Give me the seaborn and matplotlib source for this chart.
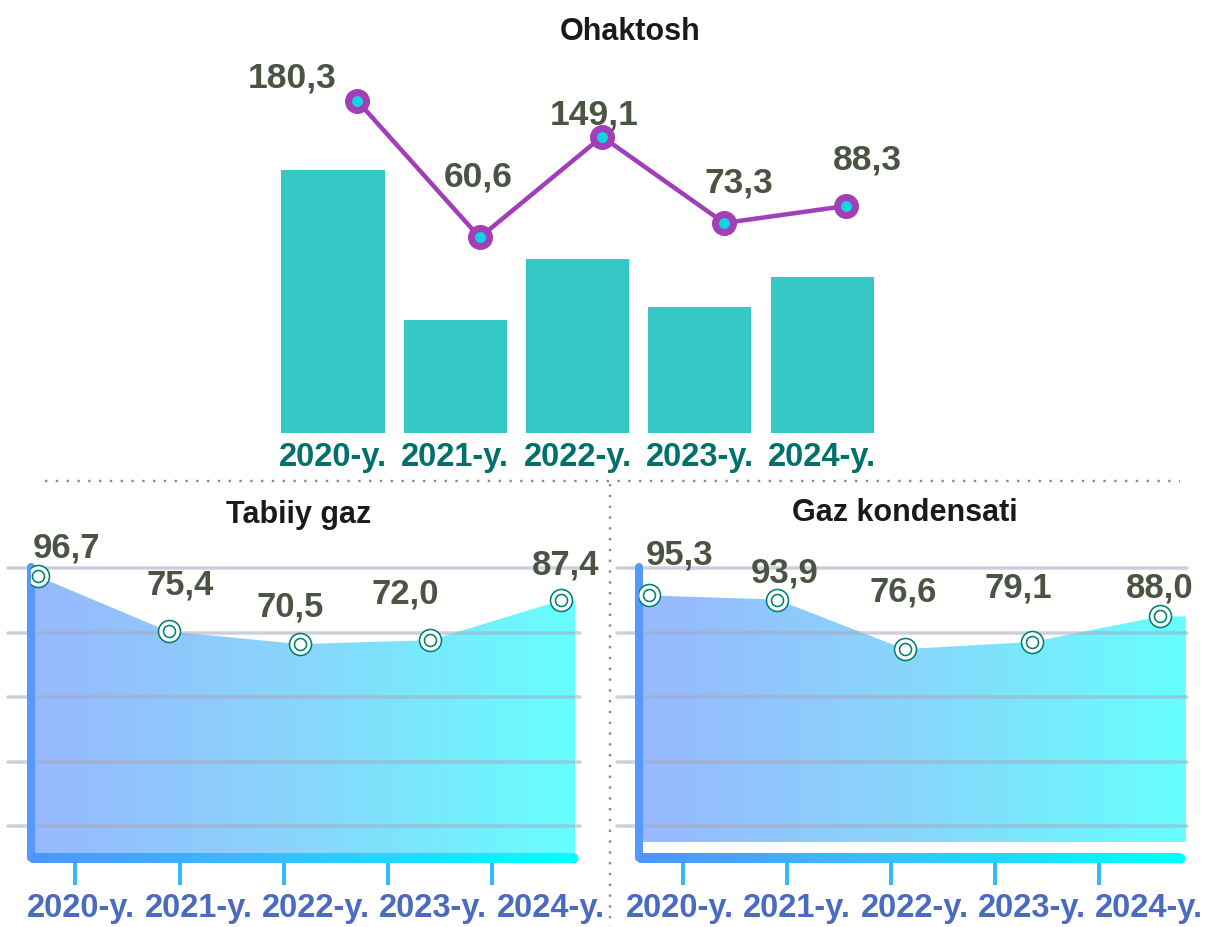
import numpy as np
import matplotlib
matplotlib.use("Agg")
import matplotlib.pyplot as plt
import seaborn as sns
from matplotlib.colors import LinearSegmentedColormap
from matplotlib.collections import LineCollection
from matplotlib.lines import Line2D

# ---------------- data ----------------
years = ['2020-y.', '2021-y.', '2022-y.', '2023-y.', '2024-y.']
ohaktosh = [180.3, 60.6, 149.1, 73.3, 88.3]
ohaktosh_bars = [263, 113, 174, 126, 156]   # bar heights as drawn (relative units)
tabiiy_gaz = [96.7, 75.4, 70.5, 72.0, 87.4]
gaz_kondensati = [95.3, 93.9, 76.6, 79.1, 88.0]
title_top = 'Ohaktosh'
title_left = 'Tabiiy gaz'
title_right = 'Gaz kondensati'

# label offsets from their points (pixels: right, up) - styling only
top_label_off = [(-65, 23), (-2, 60), (-8, 22), (15, 40), (21, 46)]
left_label_off = [(29, 28), (11, 46), (-9, 37), (-25, 46), (5, 35)]
right_label_off = [(31, 40), (8, 27), (-1, 57), (-14, 54), (0, 28)]

# ---------------- style ----------------
sns.set_theme(style='white')
plt.rcParams['font.family'] = ['Liberation Sans', 'DejaVu Sans']
plt.rcParams['font.weight'] = 'bold'

W, H = 1205, 927
PX = 72 / 100  # points per pixel
fig = plt.figure(figsize=(W / 100, H / 100), dpi=100)
fig.patch.set_facecolor('white')


def px_rect(l, t, r, b):
    return [l / W, 1 - b / H, (r - l) / W, (b - t) / H]


def fmt(v):
    return f"{v:.1f}".replace('.', ',')


VAL_COLOR = '#4a5443'

# ---------------- top panel ----------------
ax = fig.add_axes(px_rect(262, 60, 902, 433))
sns.barplot(x=years, y=ohaktosh_bars, color='#34c9c4', saturation=1,
            width=0.843, linewidth=0, ax=ax)
ax.set_xlim(-0.581, 4.654)
ax.set_ylim(0, 373)
ax.set_yticks([])
ax.set_xlabel('')
ax.set_ylabel('')
for s in ax.spines.values():
    s.set_visible(False)
ax.tick_params(axis='x', length=0, pad=9 * PX, labelsize=23.5, labelcolor='#00706a')
for lbl in ax.get_xticklabels():
    lbl.set_fontweight('bold')

ax2 = ax.twinx()
xline = np.arange(len(ohaktosh)) + 0.2
sns.lineplot(x=xline, y=ohaktosh, ax=ax2, color='#a03fb8', linewidth=4.5 * PX,
             marker='o', markersize=18 * PX, markerfacecolor='#0fd4e4',
             markeredgecolor='#a03fb8', markeredgewidth=7 * PX, zorder=5)
ax2.set_ylim(-110.9, 216.3)
ax2.set_xlim(-0.581, 4.654)
ax2.set_yticks([])
ax2.set_ylabel('')
for s in ax2.spines.values():
    s.set_visible(False)
for i, v in enumerate(ohaktosh):
    dx, dy = top_label_off[i]
    ax2.annotate(fmt(v), (xline[i], v), xytext=(dx * PX, dy * PX),
                 textcoords='offset points', ha='center', va='center',
                 fontsize=25.5, color=VAL_COLOR, fontweight='bold', zorder=6)

fig.text(630 / W, 1 - 32 / H, title_top, ha='center', va='center',
         fontsize=22, fontweight='bold', color='#1a1a1a')

# ---------------- bottom panels ----------------
area_cmap = LinearSegmentedColormap.from_list('area', ['#98b8ff', '#88d6fb', '#66ffff'])
line_cmap = LinearSegmentedColormap.from_list('axl', ['#4d94ff', '#33c4ff', '#00ffff'])


def area_panel(rect_px, values, ylim, xlim, x_end, area_bottom_frac,
               grid_x0, tick_fracs, label_fracs, label_off, title, title_xy):
    ax = fig.add_axes(px_rect(*rect_px))
    x0, x1 = xlim
    ylo, yhi = ylim
    n = len(values)
    xs = np.array(list(range(n)))
    area_bottom = ylo + area_bottom_frac * (yhi - ylo)

    # gradient area
    img = ax.imshow(np.linspace(0, 1, 256).reshape(1, -1), cmap=area_cmap,
                    extent=(x0, x_end, ylo, yhi), aspect='auto', origin='lower',
                    zorder=1)
    px_ = np.concatenate([[x0], xs, [x_end]])
    py_ = np.concatenate([[values[0]], values, [values[-1]]])
    poly = ax.fill_between(px_, py_, area_bottom, facecolor='none', edgecolor='none')
    img.set_clip_path(poly.get_paths()[0], transform=ax.transData)

    # grid lines (drawn over the area)
    for f in np.linspace(0.1022, 0.9265, 5):
        ax.plot([grid_x0, 1.0], [f, f], transform=ax.transAxes, color='#a8a8c0',
                alpha=0.55, lw=3.5 * PX, clip_on=False, zorder=2)

    # left spine
    ax.plot([0, 0], [0, 0.93], transform=ax.transAxes, color='#5599ff',
            lw=8 * PX, solid_capstyle='round', clip_on=False, zorder=3)
    # bottom gradient axis line
    end = 0.988
    xx = np.linspace(0, end, 200)
    segs = [[(xx[k], 0), (xx[k + 1], 0)] for k in range(len(xx) - 1)]
    lc = LineCollection(segs, colors=line_cmap(np.linspace(0, 1, len(segs))),
                        linewidths=10 * PX, transform=ax.transAxes, clip_on=False,
                        zorder=3, capstyle='butt')
    ax.add_collection(lc)
    ax.plot([end], [0], 'o', ms=10 * PX, color='#00ffff', mec='none',
            transform=ax.transAxes, clip_on=False, zorder=3)

    # markers
    sns.scatterplot(x=xs, y=values, s=(22 * PX) ** 2, color='white',
                    edgecolor='#00806f', linewidth=1.6 * PX, zorder=5, ax=ax,
                    legend=False)
    sns.scatterplot(x=xs, y=values, s=(12 * PX) ** 2, color='white',
                    edgecolor='#00806f', linewidth=1.6 * PX, zorder=6, ax=ax,
                    legend=False)
    for i, v in enumerate(values):
        dx, dy = label_off[i]
        ax.annotate(fmt(v), (xs[i], v), xytext=(dx * PX, dy * PX),
                    textcoords='offset points', ha='center', va='center',
                    fontsize=25, color=VAL_COLOR, fontweight='bold', zorder=7,
                    annotation_clip=False)

    ax.set_xlim(x0, x1)
    ax.set_ylim(ylo, yhi)
    ax.set_yticks([])
    ax.set_xlabel('')
    ax.set_ylabel('')
    for s in ax.spines.values():
        s.set_visible(False)
    tick_x = x0 + np.array(tick_fracs) * (x1 - x0)
    lab_x = x0 + np.array(label_fracs) * (x1 - x0)
    ax.set_xticks(tick_x, labels=[''] * len(tick_x))
    ax.set_xticks(lab_x, labels=years, minor=True)
    ax.tick_params(axis='x', which='major', direction='out', length=27 * PX,
                   width=4 * PX, color='#33bbff', bottom=True)
    ax.tick_params(axis='x', which='minor', length=0, pad=35 * PX, labelsize=23.5,
                   labelcolor='#4a6bbf', bottom=True)
    for lbl in ax.get_xticklabels(minor=True):
        lbl.set_fontweight('bold')
    fig.text(title_xy[0] / W, 1 - title_xy[1] / H, title, ha='center', va='center',
             fontsize=22, fontweight='bold', color='#1a1a1a')
    return ax


tick_fracs = np.linspace(0.081, 0.84, 5)
area_panel((31, 545, 580, 858), tabiiy_gaz, (-12.4, 108.9), (-0.0535, 4.145), 4.107,
           0.0, -0.042, tick_fracs, np.linspace(0.091, 0.947, 5), left_label_off,
           title_left, (299, 515))
area_panel((639, 545, 1187, 858), gaz_kondensati, (3.79, 112.9), (-0.078, 4.211), 4.203,
           (842 - 858) / -313.0, -0.040, tick_fracs, np.linspace(0.075, 0.931, 5),
           right_label_off, title_right, (905, 513))

# dotted separators
fig.add_artist(Line2D([45 / W, 1180 / W], [1 - 481 / H, 1 - 481 / H],
                      color='#8c8c8c', linestyle=(0, (1, 3.5)), lw=2.4 * PX))
fig.add_artist(Line2D([610 / W, 610 / W], [1 - 484 / H, 0],
                      color='#8c8c8c', linestyle=(0, (1, 3.5)), lw=2.4 * PX))

fig.savefig('out.png', dpi=100, facecolor='white')
